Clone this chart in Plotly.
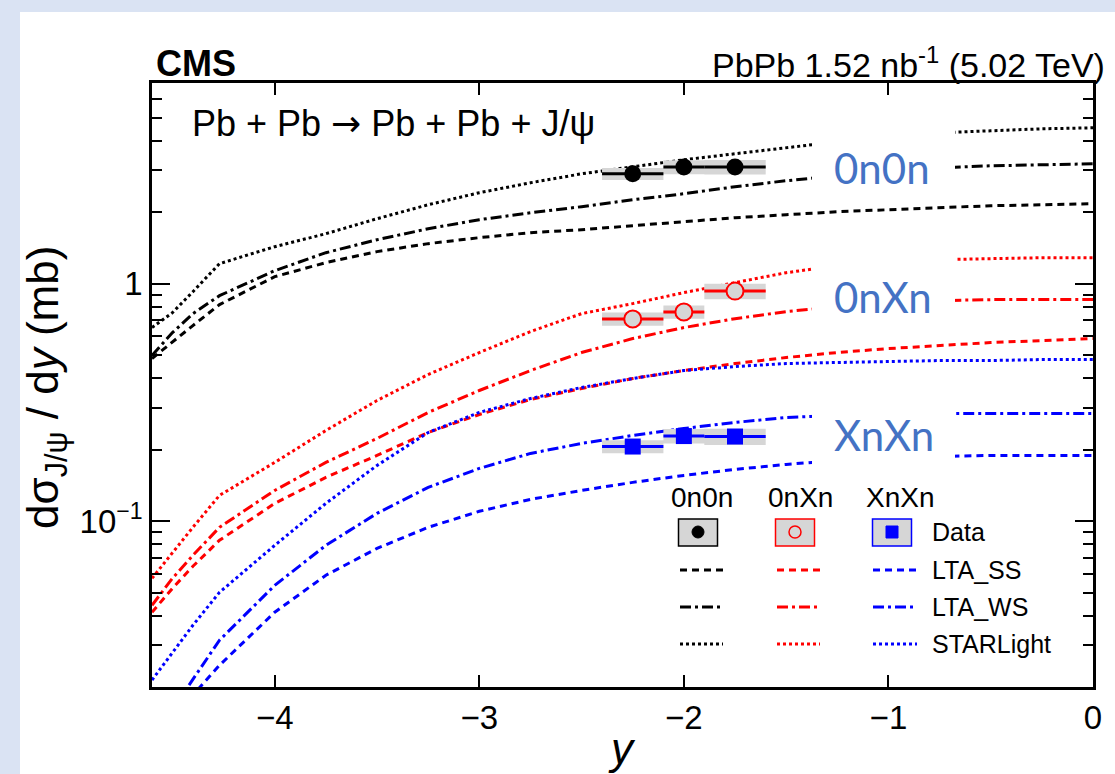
import numpy as np
import plotly.graph_objects as go

# ---------------- data ----------------
y_grid = [-4.6, -4.5, -4.4, -4.27, -4.0, -3.75, -3.5, -3.25, -3.0, -2.75, -2.5,
          -2.25, -2.0, -1.75, -1.5, -1.25, -1.0, -0.75, -0.5, -0.25, 0.0]

starlight_0n0n = [0.653, 0.755, 0.925, 1.214, 1.431, 1.623, 1.877, 2.149, 2.415, 2.660, 2.902,
                  3.107, 3.324, 3.524, 3.734, 3.958, 4.115, 4.318, 4.403, 4.489, 4.533]
lta_ws_0n0n = [0.498, 0.622, 0.748, 0.890, 1.134, 1.350, 1.531, 1.703, 1.859, 1.989, 2.109,
               2.256, 2.391, 2.559, 2.713, 2.847, 2.959, 3.076, 3.136, 3.167, 3.198]
lta_ss_0n0n = [0.484, 0.570, 0.666, 0.816, 1.070, 1.226, 1.364, 1.474, 1.562, 1.639, 1.687,
               1.754, 1.823, 1.895, 1.951, 2.009, 2.048, 2.088, 2.129, 2.149, 2.170]

starlight_0nXn = [0.0574, 0.0738, 0.0941, 0.1283, 0.1766, 0.2407, 0.3219, 0.4142, 0.5126, 0.6281, 0.7477,
                  0.8240, 0.9166, 1.0097, 1.112, 1.190, 1.238, 1.262, 1.274, 1.286, 1.286]
lta_ws_0nXn = [0.0442, 0.0574, 0.0717, 0.0941, 0.1346, 0.1766, 0.2228, 0.2867, 0.3548, 0.4305, 0.5126,
               0.5870, 0.6530, 0.7121, 0.7624, 0.8002, 0.8320, 0.8481, 0.8564, 0.8564, 0.8564]
lta_ss_0nXn = [0.0413, 0.0521, 0.0645, 0.0830, 0.1187, 0.1527, 0.1890, 0.2361, 0.2811, 0.3251, 0.3617,
               0.3985, 0.4305, 0.4608, 0.4883, 0.5126, 0.5328, 0.5485, 0.5647, 0.5757, 0.5870]

starlight_XnXn = [0.0214, 0.0280, 0.0364, 0.0501, 0.0790, 0.1187, 0.1715, 0.2361, 0.2867, 0.3283, 0.3652,
                  0.3985, 0.4305, 0.4475, 0.4608, 0.4654, 0.4697, 0.4743, 0.4743, 0.4789, 0.4789]
lta_ws_XnXn = [0.0120, 0.0161, 0.0214, 0.0315, 0.0536, 0.0790, 0.1078, 0.1386, 0.1666, 0.1927, 0.2123,
               0.2293, 0.2455, 0.2602, 0.2731, 0.2784, 0.2811, 0.2838, 0.2838, 0.2838, 0.2838]
lta_ss_XnXn = [0.0114, 0.0145, 0.0185, 0.0247, 0.0413, 0.0591, 0.0767, 0.0941, 0.1099, 0.1234, 0.1346,
               0.1455, 0.1557, 0.1650, 0.1732, 0.1800, 0.1835, 0.1871, 0.1890, 0.1890, 0.1890]

bin_center = [-2.25, -2.0, -1.75]
bin_half = [0.15, 0.10, 0.15]
data_0n0n = [2.90, 3.10, 3.10]
sys_0n0n = [0.17, 0.21, 0.22]
data_0nXn = [0.71, 0.76, 0.93]
sys_0nXn = [0.045, 0.048, 0.07]
data_XnXn = [0.206, 0.228, 0.227]
sys_XnXn = [0.013, 0.016, 0.018]

x_ticks = [-4, -3, -2, -1, 0]
x_ticktext = ["\u22124", "\u22123", "\u22122", "\u22121", "0"]
y_ticks = [0.1, 1]
y_ticktext = ["10<sup>\u22121</sup>", "1"]
y_minor = [0.02, 0.03, 0.04, 0.05, 0.06, 0.07, 0.08, 0.09,
           0.2, 0.3, 0.4, 0.5, 0.6, 0.7, 0.8, 0.9, 2, 3, 4, 5, 6, 7]

classes = ["0n0n", "0nXn", "XnXn"]
models = ["LTA_SS", "LTA_WS", "STARLight"]

# ---------------- styles ----------------
BLACK, RED, BLUE = "#000000", "#ff0000", "#0000ff"
GREY = "#d6d6d6"
DASH = {"LTA_SS": "7px,5px", "LTA_WS": "11px,4px,3px,4px", "STARLight": "3px,3px"}
FONT = "Liberation Sans, Arial, Helvetica, sans-serif"

W, H = 1115, 774
L, R, T, B = 152, 1093, 83, 687


def PX(px):
    return (px - L) / (R - L)


def PY(py):
    return (B - py) / (B - T)


fig = go.Figure()

curve_sets = [
    (BLACK, {"LTA_SS": lta_ss_0n0n, "LTA_WS": lta_ws_0n0n, "STARLight": starlight_0n0n}),
    (RED, {"LTA_SS": lta_ss_0nXn, "LTA_WS": lta_ws_0nXn, "STARLight": starlight_0nXn}),
    (BLUE, {"LTA_SS": lta_ss_XnXn, "LTA_WS": lta_ws_XnXn, "STARLight": starlight_XnXn}),
]
for color, d in curve_sets:
    for m in models:
        fig.add_trace(go.Scatter(x=y_grid, y=d[m], mode="lines",
                                 line=dict(color=color, width=3, dash=DASH[m]),
                                 showlegend=False, hoverinfo="skip"))

# systematic boxes
for vals, sys in [(data_0n0n, sys_0n0n), (data_0nXn, sys_0nXn), (data_XnXn, sys_XnXn)]:
    bx, by = [], []
    for c, h, v, s in zip(bin_center, bin_half, vals, sys):
        bx += [c - h, c + h, c + h, c - h, c - h, None]
        by += [v - s, v - s, v + s, v + s, v - s, None]
    fig.add_trace(go.Scatter(x=bx, y=by, mode="lines", fill="toself", fillcolor=GREY,
                             line=dict(width=0, color=GREY), showlegend=False, hoverinfo="skip"))

# data points
fig.add_trace(go.Scatter(x=bin_center, y=data_0n0n, mode="markers",
                         marker=dict(symbol="circle", size=17, color=BLACK),
                         error_x=dict(type="data", array=bin_half, color=BLACK, thickness=3, width=0),
                         showlegend=False))
fig.add_trace(go.Scatter(x=bin_center, y=data_0nXn, mode="markers",
                         marker=dict(symbol="circle", size=17, color=GREY, line=dict(color=RED, width=2)),
                         error_x=dict(type="data", array=bin_half, color=RED, thickness=3, width=0),
                         showlegend=False))
fig.add_trace(go.Scatter(x=bin_center, y=data_XnXn, mode="markers",
                         marker=dict(symbol="square", size=16, color=BLUE),
                         error_x=dict(type="data", array=bin_half, color=BLUE, thickness=3, width=0),
                         showlegend=False))

shapes = []
annotations = []

# outer page: white card on light-blue background
shapes.append(dict(type="rect", xref="paper", yref="paper", x0=PX(20), x1=PX(W + 5),
                   y0=PY(12), y1=PY(H + 5), fillcolor="white", line=dict(width=0), layer="below"))

# white boxes behind the class labels
for (y0, y1) in [(115, 195), (248, 325), (400, 470)]:
    shapes.append(dict(type="rect", xref="paper", yref="paper", x0=PX(812), x1=PX(955),
                       y0=PY(y1), y1=PY(y0), fillcolor="white", line=dict(width=0), layer="above"))

label_y = [168, 297, 435]
for txt, py in zip(classes, label_y):
    annotations.append(dict(text=txt, xref="paper", yref="paper", x=PX(832), y=PY(py),
                            xanchor="left", yanchor="middle", showarrow=False,
                            font=dict(family="Lato, Noto Sans, sans-serif", size=42, color="#4472c4")))

# legend (custom grid)
col_x = [698, 795, 892]
col_colors = [BLACK, RED, BLUE]
head_x = [702, 800, 900]
for txt, hx in zip(classes, head_x):
    annotations.append(dict(text=txt, xref="paper", yref="paper", x=PX(hx), y=PY(497),
                            xanchor="center", yanchor="middle", showarrow=False,
                            font=dict(family=FONT, size=28, color="black")))
for cx, col in zip(col_x, col_colors):
    shapes.append(dict(type="rect", xref="paper", yref="paper", x0=PX(cx - 19.5), x1=PX(cx + 19.5),
                       y0=PY(546), y1=PY(519), fillcolor=GREY, line=dict(color=col, width=1.5),
                       layer="above"))
# legend markers
shapes.append(dict(type="circle", xref="paper", yref="paper", xsizemode="pixel", ysizemode="pixel",
                   xanchor=PX(col_x[0]), yanchor=PY(532), x0=-6, x1=6, y0=-6, y1=6,
                   fillcolor=BLACK, line=dict(color=BLACK, width=1), layer="above"))
shapes.append(dict(type="circle", xref="paper", yref="paper", xsizemode="pixel", ysizemode="pixel",
                   xanchor=PX(col_x[1]), yanchor=PY(532), x0=-6, x1=6, y0=-6, y1=6,
                   fillcolor=GREY, line=dict(color=RED, width=1.5), layer="above"))
shapes.append(dict(type="rect", xref="paper", yref="paper", xsizemode="pixel", ysizemode="pixel",
                   xanchor=PX(col_x[2]), yanchor=PY(532), x0=-6, x1=6, y0=-6, y1=6,
                   fillcolor=BLUE, line=dict(color=BLUE, width=1), layer="above"))

row_y = {"Data": 532, "LTA_SS": 570, "LTA_WS": 607, "STARLight": 644}
seg = [(680, 723), (777, 820), (873, 917)]
for m in models:
    for (sx0, sx1), col in zip(seg, col_colors):
        shapes.append(dict(type="line", xref="paper", yref="paper", x0=PX(sx0), x1=PX(sx1),
                           y0=PY(row_y[m]), y1=PY(row_y[m]),
                           line=dict(color=col, width=3, dash=DASH[m]), layer="above"))
for name, py in row_y.items():
    annotations.append(dict(text=name, xref="paper", yref="paper", x=PX(930), y=PY(py),
                            xanchor="left", yanchor="middle", showarrow=False,
                            font=dict(family=FONT, size=25, color="black")))

# header texts
annotations.append(dict(text="<b>CMS</b>", xref="paper", yref="paper", x=PX(154), y=PY(63),
                        xanchor="left", yanchor="middle", showarrow=False,
                        font=dict(family=FONT, size=36, color="black")))
annotations.append(dict(text="PbPb 1.52 nb<sup>-1</sup> (5.02 TeV)", xref="paper", yref="paper",
                        x=PX(1107), y=PY(62), xanchor="right", yanchor="middle", showarrow=False,
                        font=dict(family=FONT, size=34, color="black")))
annotations.append(dict(text="Pb + Pb <span style=\"font-family:DejaVu Sans\">\u2192</span> Pb + Pb + J/\u03c8",
                        xref="paper", yref="paper",
                        x=PX(190), y=PY(123), xanchor="left", yanchor="middle", showarrow=False,
                        font=dict(family=FONT, size=36, color="black")))

# axis titles
annotations.append(dict(text="d\u03c3<sub>J/\u03c8</sub> / d<i>y</i> (mb)", xref="paper", yref="paper",
                        x=PX(46), y=PY(388), xanchor="center", yanchor="middle", textangle=-90,
                        showarrow=False, font=dict(family=FONT, size=44, color="black")))
annotations.append(dict(text="<i>y</i>", xref="paper", yref="paper", x=PX(622), y=PY(748),
                        xanchor="center", yanchor="middle", showarrow=False,
                        font=dict(family=FONT, size=44, color="black")))

fig.update_layout(
    width=W, height=H,
    margin=dict(l=L, r=W - R, t=T, b=H - B, pad=0),
    paper_bgcolor="#dae3f3",
    plot_bgcolor="white",
    showlegend=False,
    shapes=shapes,
    annotations=annotations,
    xaxis=dict(range=[-4.6, 0], tickvals=x_ticks, ticktext=x_ticktext, ticks="inside",
               ticklen=12, tickwidth=2, tickcolor="black", showline=True, linewidth=2.5,
               linecolor="black", mirror="ticks", showgrid=False, zeroline=False,
               tickfont=dict(family=FONT, size=33, color="black")),
    yaxis=dict(type="log", range=[np.log10(0.02), np.log10(7)], tickvals=y_ticks,
               ticktext=y_ticktext, ticks="inside", ticklen=18, tickwidth=2, tickcolor="black",
               showline=True, linewidth=2.5, linecolor="black", mirror="ticks",
               showgrid=False, zeroline=False,
               tickfont=dict(family=FONT, size=33, color="black"),
               minor=dict(tickvals=y_minor, ticks="inside", ticklen=10, tickwidth=2,
                          tickcolor="black", showgrid=False)),
)

fig.write_html("out.html")
